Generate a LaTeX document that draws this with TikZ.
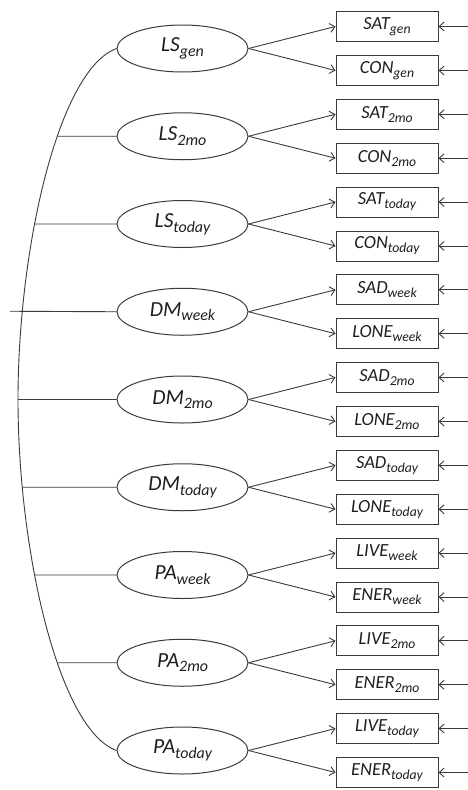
\documentclass[tikz,border=0pt]{standalone}
\usepackage{fontspec}
\usepackage{graphicx}
\setmainfont{Carlito}
\usetikzlibrary{shapes.geometric,arrows.meta,intersections}
\definecolor{linec}{HTML}{3A3A3A}
\definecolor{txtc}{HTML}{1E1E1E}
% lowered, reduced index after a variable name
\newcommand\sbs[1]{\raisebox{-0.45ex}{\scalebox{0.74}{#1}}}

\begin{document}
\begin{tikzpicture}[x=1pt,y=-1pt,
  latent/.style={ellipse,draw=linec,line width=1pt,minimum width=131pt,
    minimum height=47pt,inner sep=0pt,text=txtc,
    font=\fontsize{21.5}{23}\selectfont\itshape},
  indic/.style={rectangle,draw=linec,line width=1pt,minimum width=102pt,
    minimum height=30pt,inner sep=0pt,text=txtc,
    font=\fontsize{18.5}{20}\selectfont\itshape},
  load/.style={draw=linec,line width=0.9pt,-{Straight Barb[length=5pt,width=9pt]}},
  link/.style={draw=linec,line width=0.9pt}]
\useasboundingbox (0,0) rectangle (468,790);

% latent factors with their two indicators each
\foreach \lat/\sx/\ia/\ib [count=\i from 0] in
  {LS/gen/SAT/CON, LS/2mo/SAT/CON, LS/today/SAT/CON,
   DM/week/SAD/LONE, DM/2mo/SAD/LONE, DM/today/SAD/LONE,
   PA/week/LIVE/ENER, PA/2mo/LIVE/ENER, PA/today/LIVE/ENER} {
  \pgfmathsetmacro\yc{48.5+87.75*\i}
  \node[latent] (L\i) at (182.5,\yc) {\lat\sbs{\sx}};
  \node[indic] (A\i) at (387,\yc-22) {\ia\sbs{\sx}};
  \node[indic] (B\i) at (387,\yc+22) {\ib\sbs{\sx}};
  \coordinate (ra\i) at (468,\yc-22);
  \coordinate (rb\i) at (468,\yc+22);
  \draw[load] (L\i.east) -- (A\i.west);
  \draw[load] (L\i.east) -- (B\i.west);
  \draw[load] (ra\i) -- (A\i.east);
  \draw[load] (rb\i) -- (B\i.east);
}

% second-order spine joining all factors
\draw[link,name path=spine] (L0.west) .. controls (58,70) and (18,250) .. (18,399.5)
  .. controls (18,549) and (58,729) .. (L8.west);

\foreach \i in {1,2,4,5,6,7} {
  \path[name path=hl\i] (L\i.west) -- ++(-140,0);
  \draw[link,name intersections={of=spine and hl\i}] (intersection-1) -- (L\i.west);
}

% stub crossing the spine at the centre
\coordinate (lt) at (10,311.25);
\draw[link] (lt) -- (L3.west);
\end{tikzpicture}
\end{document}
